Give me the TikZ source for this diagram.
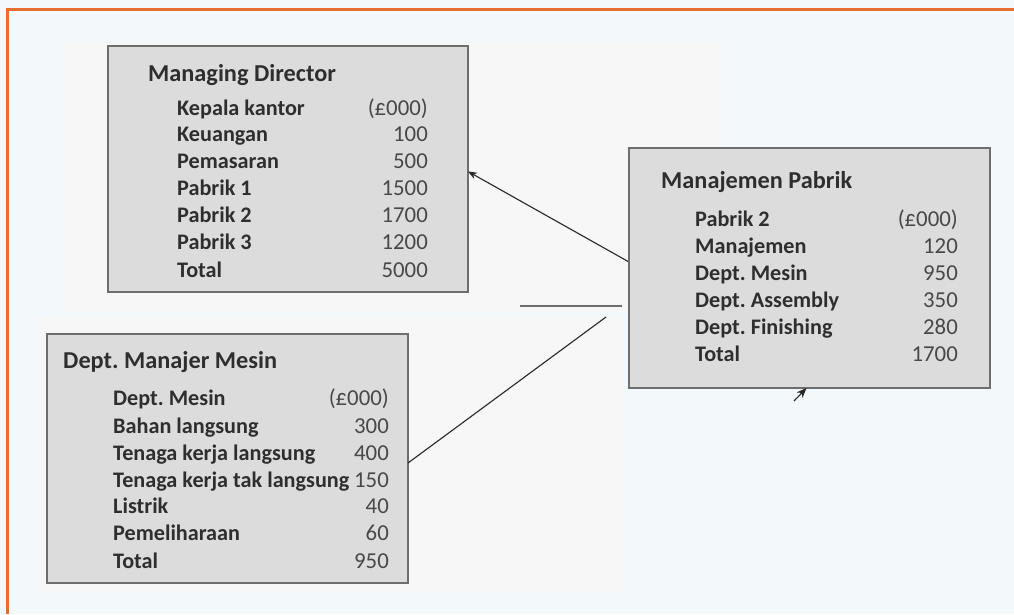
\documentclass[tikz,border=0pt]{standalone}
\usepackage{fontspec}
\setmainfont{Carlito}
\usetikzlibrary{arrows.meta,calc}
\definecolor{pagebg}{HTML}{F3F8FB}
\definecolor{panelbg}{HTML}{F7F7F7}
\definecolor{boxfill}{HTML}{DCDCDC}
\definecolor{boxline}{HTML}{6E6E6E}
\definecolor{orangeline}{HTML}{E2702F}
\definecolor{txt}{HTML}{2E2E2E}
\definecolor{numtxt}{HTML}{484848}
\frenchspacing
\begin{document}
\begin{tikzpicture}[x=1pt,y=-1pt,
  box/.style={draw=boxline, line width=1.6pt, fill=boxfill, inner sep=0pt, outer sep=0pt},
  ttl/.style={anchor=base west, font=\fontsize{24.3}{26}\selectfont\bfseries, text=txt, inner sep=0pt},
  lbl/.style={anchor=base west, font=\fontsize{22.2}{24}\selectfont\bfseries, text=txt, inner sep=0pt},
  num/.style={anchor=base east, font=\fontsize{22.8}{24}\selectfont, text=numtxt, inner sep=0pt},
  conn/.style={draw=black!85, line width=1.1pt},
  tip/.style={-{Stealth[length=9pt,width=7pt]}}
]
\useasboundingbox (0,0) rectangle (1014,614);
\fill[pagebg] (0,0) rectangle (1014,614);
% pasted panels
\fill[panelbg] (65,42) rectangle (721,311);
\fill[panelbg] (40,317) rectangle (624,592);
% orange frame
\draw[orangeline, line width=2.6pt] (7.5,614) -- (7.5,9.5) -- (1014,9.5);
% fragment of a box top
\draw[boxline, line width=1.6pt] (520,306) -- (622,306);

% Managing Director box
\node[box, minimum width=360pt, minimum height=246pt] (md) at (288,169) {};
\node[ttl] (mdt) at (148,81) {Managing Director};
\node[lbl] (md1) at (177,115) {Kepala kantor};   \node[num] (md1n) at (428,115) {(£000)};
\node[lbl] (md2) at (177,141) {Keuangan};        \node[num] (md2n) at (428,141) {100};
\node[lbl] (md3) at (177,168) {Pemasaran};       \node[num] (md3n) at (428,168) {500};
\node[lbl] (md4) at (177,195) {Pabrik 1};        \node[num] (md4n) at (428,195) {1500};
\node[lbl] (md5) at (177,222) {Pabrik 2};        \node[num] (md5n) at (428,222) {1700};
\node[lbl] (md6) at (177,249) {Pabrik 3};        \node[num] (md6n) at (428,249) {1200};
\node[lbl] (md7) at (177,277) {Total};           \node[num] (md7n) at (428,277) {5000};

% Dept. Manajer Mesin box
\node[box, minimum width=361pt, minimum height=249pt] (dm) at (227.5,458.5) {};
\node[ttl] (dmt) at (63,368) {Dept. Manajer Mesin};
\node[lbl] (dm1) at (113,405) {Dept. Mesin};                \node[num] (dm1n) at (389,405) {(£000)};
\node[lbl] (dm2) at (113,433) {Bahan langsung};             \node[num] (dm2n) at (389,433) {300};
\node[lbl] (dm3) at (113,460) {Tenaga kerja langsung};      \node[num] (dm3n) at (389,460) {400};
\node[lbl] (dm4) at (113,487) {Tenaga kerja tak langsung};  \node[num] (dm4n) at (389,487) {150};
\node[lbl] (dm5) at (113,513) {Listrik};                    \node[num] (dm5n) at (389,513) {40};
\node[lbl] (dm6) at (113,540) {Pemeliharaan};               \node[num] (dm6n) at (389,540) {60};
\node[lbl] (dm7) at (113,568) {Total};                      \node[num] (dm7n) at (389,568) {950};

% connectors (drawn before the Manajemen Pabrik box, which covers their start)
\coordinate (mpanchor) at (629,262);
\coordinate (dmend) at (606,317);
\coordinate (smallstart) at (794,401);
\draw[conn, tip] (mpanchor) -- ($(md.north east)!0.51!(md.south east)$);
\draw[conn] ($(dm.north east)!0.518!(dm.south east)$) -- (dmend);

% Manajemen Pabrik box
\node[box, minimum width=361pt, minimum height=240pt] (mp) at (809.5,268) {};
\node[ttl] (mpt) at (661,188) {Manajemen Pabrik};
\node[lbl] (mp1) at (695,226) {Pabrik 2};          \node[num] (mp1n) at (958,226) {(£000)};
\node[lbl] (mp2) at (695,253) {Manajemen};         \node[num] (mp2n) at (958,253) {120};
\node[lbl] (mp3) at (695,280) {Dept. Mesin};       \node[num] (mp3n) at (958,280) {950};
\node[lbl] (mp4) at (695,307) {Dept. Assembly};    \node[num] (mp4n) at (958,307) {350};
\node[lbl] (mp5) at (695,334) {Dept. Finishing};   \node[num] (mp5n) at (958,334) {280};
\node[lbl] (mp6) at (695,361) {Total};             \node[num] (mp6n) at (958,361) {1700};

\draw[conn, -{Stealth[length=10pt,width=8pt]}] (smallstart) -- ($(mp.south)+(-3,0)$);
\end{tikzpicture}
\end{document}
